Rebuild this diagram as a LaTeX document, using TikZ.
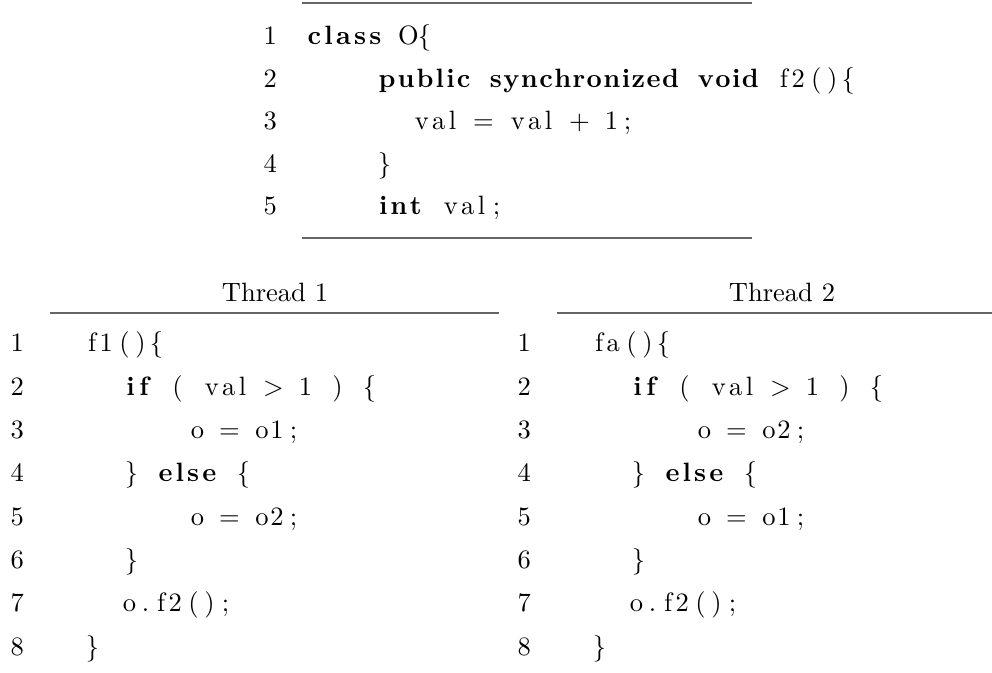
\documentclass[tikz,border=0pt]{standalone}
\usetikzlibrary{positioning}

\makeatletter
% fixed columns: one column per character, words spread over theirs
\newlength{\colw}
\setlength{\colw}{6.03pt}
\newcount\nch
\newcommand{\cols}[1]{\@tfor\cc:=#1\do{\makebox[\colw][c]{\cc}}}
\newcommand{\tok}[1]{\nch=0 \@tfor\cc:=#1\do{\advance\nch by 1}%
    \hbox to \nch\colw{\hss\@tfor\cc:=#1\do{\cc\hss}}}
\newcommand{\btok}[1]{{\bfseries\tok{#1}}}
\makeatother

\begin{document}
\begin{tikzpicture}[x=0.377pt, y=-0.377pt]
    \tikzset{
        code/.style={anchor=base west, inner sep=0pt},
        lnum/.style={anchor=base west, inner sep=0pt},
        rule/.style={draw=black!60, line width=0.9pt},
        title/.style={anchor=base, inner sep=0pt}
    }
    \useasboundingbox (0,0) rectangle (992,673);

    % class O
    \draw [rule] (302,3) -- (752,3);
    \draw [rule] (302,238) -- (752,238);
    \foreach \i in {1,...,5}
        \node[lnum] (tn\i) at (263,{45+42.5*(\i-1)}) {\i};
    \node[code] (t1) at (304,45) {\btok{class}\cols{~O\{}};
    \node[code] (t2) at (376,87.5) {\btok{public}\cols{~}\btok{synchronized}\cols{~}\btok{void}\cols{~}\tok{f2}\cols{()\{}};
    \node[code] (t3) at (411,130) {\tok{val}\cols{~=~}\tok{val}\cols{~+~1;}};
    \node[code] (t4) at (376,172.5) {\cols{\}}};
    \node[code] (t5) at (376,215) {\btok{int}\cols{~}\tok{val}\cols{;}};

    % thread 1
    \node[title] (th1) at (275,302) {Thread 1};
    \draw [rule] (50,313) -- (499,313);
    \foreach \i in {1,...,8}
        \node[lnum] (an\i) at (10,{352+43.3*(\i-1)}) {\i};
    \node[code] (a1) at (84,352) {\tok{f1}\cols{()\{}};
    \node[code] (a2) at (121,395.3) {\btok{if}\cols{~(~}\tok{val}\cols{~>~1~)~\{}};
    \node[code] (a3) at (189,438.6) {\cols{o~=~}\tok{o1}\cols{;}};
    \node[code] (a4) at (123,481.9) {\cols{\}~}\btok{else}\cols{~\{}};
    \node[code] (a5) at (189,525.2) {\cols{o~=~}\tok{o2}\cols{;}};
    \node[code] (a6) at (123,568.5) {\cols{\}}};
    \node[code] (a7) at (121,611.8) {\cols{o.}\tok{f2}\cols{();}};
    \node[code] (a8) at (84,655.1) {\cols{\}}};

    % thread 2
    \node[title] (th2) at (782,302) {Thread 2};
    \draw [rule] (557,313) -- (992,313);
    \foreach \i in {1,...,8}
        \node[lnum] (bn\i) at (517,{352+43.3*(\i-1)}) {\i};
    \node[code] (b1) at (591,352) {\tok{fa}\cols{()\{}};
    \node[code] (b2) at (628,395.3) {\btok{if}\cols{~(~}\tok{val}\cols{~>~1~)~\{}};
    \node[code] (b3) at (696,438.6) {\cols{o~=~}\tok{o2}\cols{;}};
    \node[code] (b4) at (630,481.9) {\cols{\}~}\btok{else}\cols{~\{}};
    \node[code] (b5) at (696,525.2) {\cols{o~=~}\tok{o1}\cols{;}};
    \node[code] (b6) at (630,568.5) {\cols{\}}};
    \node[code] (b7) at (628,611.8) {\cols{o.}\tok{f2}\cols{();}};
    \node[code] (b8) at (591,655.1) {\cols{\}}};
\end{tikzpicture}
\end{document}
